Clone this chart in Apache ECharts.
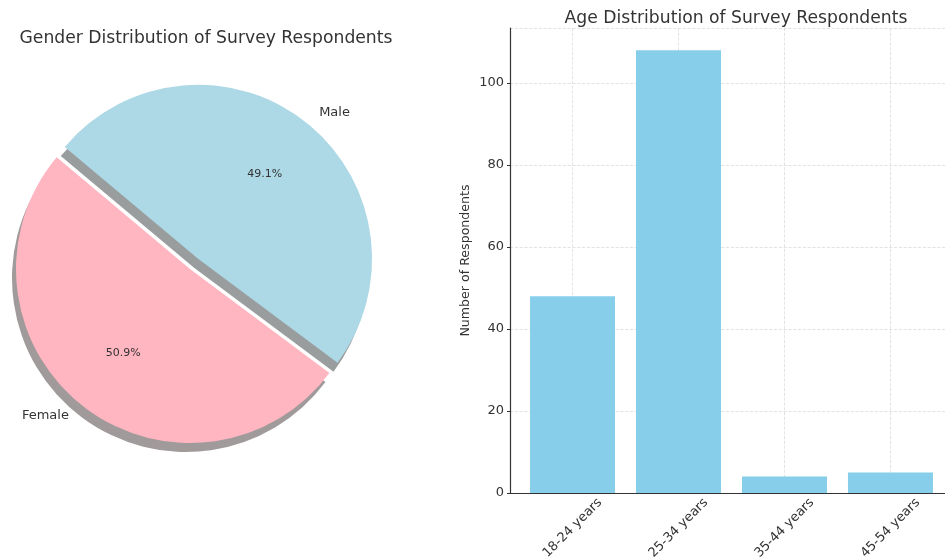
<!DOCTYPE html>
<html>
<head>
<meta charset="utf-8">
<script src="https://cdn.jsdelivr.net/npm/echarts@6/dist/echarts.min.js"></script>
<style>
  html, body { margin: 0; padding: 0; background: #fff; overflow: hidden; }
  #chart { width: 945px; height: 558px; }
</style>
</head>
<body>
<div id="chart"></div>
<script>
// gender split (counts behind the percentages)
const genderLabels = ['Male', 'Female']
const genderCounts = [81, 84]
const genderColors = ['#ADD8E6', '#FFB6C1']

// age groups
const ageGroups = ['18-24 years', '25-34 years', '35-44 years', '45-54 years']
const ageCounts = [48, 108, 4, 5]
const ageTicks = [0, 20, 40, 60, 80, 100]

const font = 'DejaVu Sans'
const chart = echarts.init(document.getElementById('chart'))

const pieCenter = [190, 269]
const pieRadius = 174

const pieData = genderLabels.map((name, i) => ({
  name,
  value: genderCounts[i],
  selected: name === 'Male',
  itemStyle: {
    color: genderColors[i],
    shadowColor: name === 'Female' ? '#a09a9b' : '#999d9e',
    shadowBlur: 0,
    shadowOffsetX: -4,
    shadowOffsetY: 9,
  },
}))

const option = {
  animation: false,
  textStyle: { fontFamily: font },
  title: [
    {
      text: 'Gender Distribution of Survey Respondents',
      left: 201,
      top: 25,
      textAlign: 'center',
      textStyle: { fontFamily: font, fontSize: 17.2, fontWeight: 'normal', color: '#333' },
    },
    {
      text: 'Age Distribution of Survey Respondents',
      left: 731,
      top: 5,
      textAlign: 'center',
      textStyle: { fontFamily: font, fontSize: 17.2, fontWeight: 'normal', color: '#333' },
    },
  ],
  // the plot runs a little past the right edge, as in the original crop
  grid: { left: 510, right: -8, top: 28, bottom: 65, outerBoundsMode: 'none' },
  xAxis: {
    type: 'value',
    min: -0.59,
    max: 3.59,
    splitNumber: 4,
    axisLine: { onZero: false, lineStyle: { color: '#333', width: 1.2 } },
    axisTick: { show: true, inside: true, length: 4, lineStyle: { color: '#333' } },
    axisLabel: {
      rotate: 45,
      align: 'center',
      verticalAlign: 'middle',
      margin: 35,
      fontSize: 13,
      color: '#333',
      showMinLabel: false,
      showMaxLabel: false,
      formatter: v => (Number.isInteger(v) && ageGroups[v]) ? ageGroups[v] : '',
    },
    splitLine: { show: true, lineStyle: { color: '#dcdcdc', type: 'dashed', width: 0.8 } },
  },
  yAxis: {
    type: 'value',
    min: 0,
    max: 113.4,
    interval: 20,
    name: 'Number of Respondents',
    nameLocation: 'middle',
    nameGap: 38,
    nameTextStyle: { fontFamily: font, fontSize: 12.6, color: '#333' },
    axisLine: { show: true, onZero: false, lineStyle: { color: '#333', width: 1.2 } },
    axisTick: { show: true, length: 3, lineStyle: { color: '#333' } },
    axisLabel: {
      fontSize: 13,
      color: '#333',
      margin: 6,
      formatter: v => (ageTicks.includes(v) ? String(v) : ''),
      showMaxLabel: false,
    },
    splitLine: { show: true, lineStyle: { color: '#dcdcdc', type: 'dashed', width: 0.8 } },
  },
  series: [
    {
      type: 'pie',
      center: pieCenter,
      radius: pieRadius,
      startAngle: 140,
      clockwise: true,
      selectedMode: 'single',
      selectedOffset: 13,
      avoidLabelOverlap: false,
      silent: true,
      label: {
        show: true,
        position: 'outside',
        formatter: '{b}',
        fontFamily: font,
        fontSize: 13,
        color: '#333',
        distanceToLabelLine: 5,
      },
      labelLine: { show: false, length: 13, length2: 0 },
      data: pieData,
    },
    {
      // transparent copy, only for the percentage labels at 0.6 r
      type: 'pie',
      center: pieCenter,
      radius: pieRadius * 1.2,
      startAngle: 140,
      clockwise: true,
      selectedMode: 'single',
      selectedOffset: 13,
      percentPrecision: 1,
      avoidLabelOverlap: false,
      silent: true,
      itemStyle: { color: 'rgba(0,0,0,0)' },
      label: {
        show: true,
        position: 'inside',
        formatter: '{d}%',
        fontFamily: font,
        fontSize: 11,
        color: '#333',
      },
      labelLine: { show: false },
      data: genderLabels.map((name, i) => ({
        name,
        value: genderCounts[i],
        selected: name === 'Male',
      })),
    },
    {
      type: 'bar',
      barWidth: 85,
      itemStyle: { color: '#87CEEB' },
      data: ageCounts.map((v, i) => [i, v]),
    },
  ],
}

chart.setOption(option)
</script>
</body>
</html>
